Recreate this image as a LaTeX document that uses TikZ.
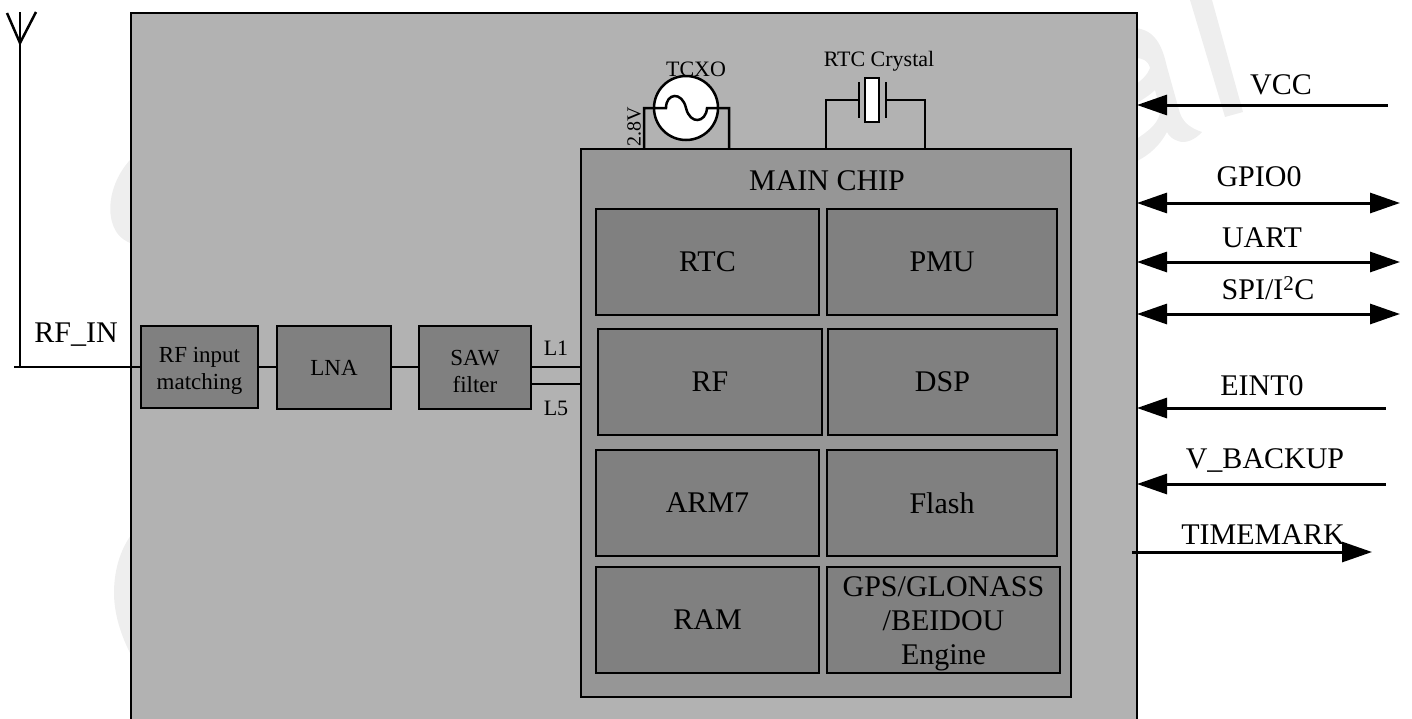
\documentclass[tikz,border=0pt]{standalone}
\usepackage{fontspec}
\setmainfont{Liberation Serif}
\usetikzlibrary{arrows.meta}
\definecolor{modgray}{HTML}{B2B2B2}
\definecolor{chipgray}{HTML}{969696}
\definecolor{blockgray}{HTML}{808080}
\definecolor{markgray}{HTML}{EEEEEE}
\tikzstyle{blk} = [draw, line width=2.5pt, fill=blockgray, anchor=north west, align=center, inner sep=0pt, outer sep=0pt]
\tikzstyle{wire} = [draw, black, line width=2.5pt, line join=miter]
\tikzstyle{pin} = [wire, line width=3pt]
\tikzset{
	big/.style={font=\fontsize{30}{34}\selectfont},
	small/.style={font=\fontsize{23}{27}\selectfont},
	tiny/.style={font=\fontsize{22}{26}\selectfont}
}

\begin{document}
\begin{tikzpicture}[x=1pt, y=-1pt, >={Triangle[length=30pt,width=20pt]}]
\useasboundingbox (0,0) rectangle (1412,718);
\path[clip] (0,0) rectangle (1412,718);

% Watermark
\fill[markgray] (135,155) .. controls (116,172) and (106,200) .. (112,222) .. controls (116,236) and (124,241) .. (135,245) -- cycle;
\fill[markgray] (135,530) .. controls (118,550) and (114,575) .. (114,593) .. controls (114,615) and (122,640) .. (135,662) -- cycle;
\fill[markgray] (1190,0) -- (1212,0) -- (1243,112) -- (1225,117) -- cycle;
\fill[markgray] (1135,28) .. controls (1155,30) and (1162,45) .. (1167,67) -- (1179,110) .. controls (1182,122) and (1190,128) .. (1202,132) .. controls (1195,140) and (1185,144) .. (1178,141) .. controls (1172,139) and (1169,136) .. (1167,132) .. controls (1160,145) and (1150,155) .. (1135,162) -- (1135,140) .. controls (1150,130) and (1160,122) .. (1160,110) -- (1155,90) .. controls (1150,95) and (1142,100) .. (1135,104) -- (1135,85) .. controls (1142,80) and (1148,74) .. (1150,68) .. controls (1148,60) and (1142,58) .. (1135,58) -- cycle;

% Boxes
\node[draw, line width=2.5pt, fill=modgray, anchor=north west, minimum width=1006pt, minimum height=760pt, inner sep=0pt, outer sep=0pt] (module) at (131,13) {};
\node[draw, line width=2.5pt, fill=chipgray, anchor=north west, minimum width=490pt, minimum height=548pt, inner sep=0pt, outer sep=0pt] (chip) at (581,149) {};
\node[big] (chiplabel) at (827,181) {MAIN CHIP};

\node[blk, big, minimum width=223pt, minimum height=106pt] (rtc) at (596,209) {RTC};
\node[blk, big, minimum width=230pt, minimum height=106pt] (pmu) at (827,209) {PMU};
\node[blk, big, minimum width=224pt, minimum height=106pt] (rf) at (598,329) {RF};
\node[blk, big, minimum width=229pt, minimum height=106pt] (dsp) at (828,329) {DSP};
\node[blk, big, minimum width=223pt, minimum height=106pt] (arm) at (596,450) {ARM7};
\node[blk, big, minimum width=230pt, minimum height=106pt] (flash) at (827,450) {Flash};
\node[blk, big, minimum width=223pt, minimum height=106pt] (ram) at (596,567) {RAM};
\node[blk, big, minimum width=233pt, minimum height=106pt] (engine) at (827,567) {\rule{0pt}{28pt}GPS/GLONASS\\/BEIDOU\\Engine};

\node[blk, small, minimum width=117pt, minimum height=82pt] (match) at (141,326) {\rule{0pt}{23pt}RF input\\matching};
\node[blk, small, minimum width=114pt, minimum height=83pt] (lna) at (277,326) {LNA};
\node[blk, small, minimum width=112pt, minimum height=83pt] (saw) at (419,326) {\rule{0pt}{23pt}SAW\\filter};

% RF path
\coordinate (antfoot) at (20,367);
\coordinate (anttip) at (20,12);
\coordinate (antjoin) at (20,43);
\coordinate (antleft) at (7,13);
\coordinate (antright) at (36,12);
\coordinate (rfstart) at (14,367);
\draw[wire] (anttip) -- (antfoot);
\draw[wire] (antleft) -- (antjoin) -- (antright);
\draw[wire] (rfstart) -- (match.west |- rfstart);
\draw[wire] (match.east |- rfstart) -- (lna.west |- rfstart);
\draw[wire] (lna.east |- rfstart) -- (saw.west |- rfstart);
\draw[wire] (saw.east |- 0,367) -- node[above=7pt, tiny] {L1} (chip.west |- 0,367);
\draw[wire] (saw.east |- 0,384) -- node[below=13pt, tiny] {L5} (chip.west |- 0,384);
\node[big] (rfin) at (76,335) {RF\_IN};

% TCXO
\node[draw, circle, line width=2.5pt, fill=white, minimum size=64pt, inner sep=0pt] (tcxo) at (686,108) {};
\draw[wire] (644,149) -- (644,108) -- (666,108) .. controls (666,93) and (682,91) .. (686,108) .. controls (690,125) and (706,123) .. (707,108) -- (729,108) -- (729,149);
\node[tiny] (tcxolabel) at (696,69) {TCXO};
\node[font=\fontsize{20}{24}\selectfont, rotate=90] (vlabel) at (634,127) {2.8V};

% Crystal
\node[draw, line width=2.5pt, fill=white, minimum width=14pt, minimum height=44pt, inner sep=0pt] (xtal) at (872,100) {};
\draw[wire] (826,149) -- (826,100) -- (859,100);
\draw[wire] (886,100) -- (925,100) -- (925,149);
\draw[wire] (859,82) -- (859,118);
\draw[wire] (886,82) -- (886,118);
\node[tiny] (xtallabel) at (879,61) {RTC Crystal};

% Arrows
\coordinate (vccend) at (1388,105);
\draw[pin, <-] (module.east |- vccend) -- (vccend);
\coordinate (gpioend) at (1400,203);
\draw[pin, <->] (module.east |- gpioend) -- (gpioend);
\coordinate (uartend) at (1400,262);
\draw[pin, <->] (module.east |- uartend) -- (uartend);
\coordinate (spiend) at (1400,314);
\draw[pin, <->] (module.east |- spiend) -- (spiend);
\coordinate (eintend) at (1386,408);
\draw[pin, <-] (module.east |- eintend) -- (eintend);
\coordinate (backupend) at (1386,484);
\draw[pin, <-] (module.east |- backupend) -- (backupend);
\coordinate (markstart) at (1132,552);
\coordinate (markend) at (1372,552);
\draw[pin, ->] (markstart) -- (markend);

\node[big] (vcc) at (1281,85) {VCC};
\node[big] (gpio) at (1259,177) {GPIO0};
\node[big] (uart) at (1262,238) {UART};
\node[big] (spi) at (1268,288) {SPI/I\textsuperscript{2}C};
\node[big] (eint) at (1262,386) {EINT0};
\node[big] (backup) at (1265,460) {V\_BACKUP};
\node[big] (mark) at (1263,535) {TIMEMARK};

\end{tikzpicture}
\end{document}
